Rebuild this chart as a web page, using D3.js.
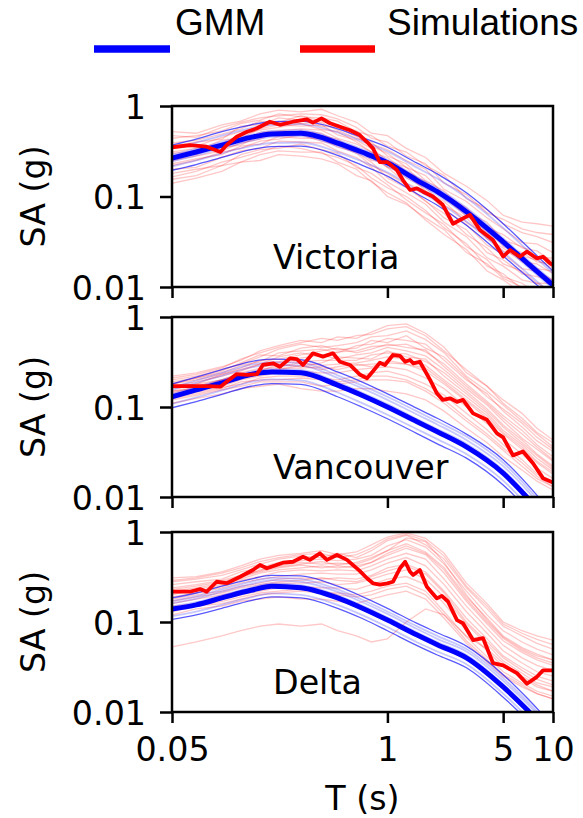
<!DOCTYPE html>
<html>
<head>
<meta charset="utf-8">
<script src="https://cdn.jsdelivr.net/npm/d3@7"></script>
<style>
  body { margin: 0; background: #fff; }
  text { font-family: "DejaVu Sans", sans-serif; fill: #000; }
</style>
</head>
<body>
<svg id="chart" width="583" height="818"></svg>
<script>
// periods (s)
var gmmPeriods = [0.05, 0.07, 0.1, 0.15, 0.2, 0.3, 0.5, 0.7, 1, 1.5, 2, 3, 5, 7, 10];
var simPeriods = [0.05, 0.07, 0.1, 0.13, 0.17, 0.22, 0.3, 0.4, 0.5, 0.65, 0.8, 1, 1.3, 1.7, 2.2, 3, 4, 5, 6.5, 8, 10];

var xTickValues = [0.05, 1, 5, 10];
var xTickLabels = ["0.05", "1", "5", "10"];
var yTickValues = [0.01, 0.1, 1];
var yTickLabels = ["0.01", "0.1", "1"];
var siteNames = ["Victoria", "Vancouver", "Delta"];

// ---- Victoria ----
var vicGmmMedian = [0.265, 0.31, 0.37, 0.45, 0.49, 0.50, 0.39, 0.31, 0.236, 0.152, 0.113, 0.068, 0.0316, 0.0184, 0.0105];
var vicGmmUpper = [0.37, 0.43, 0.52, 0.62, 0.67, 0.68, 0.56, 0.45, 0.35, 0.235, 0.178, 0.11, 0.05, 0.028, 0.015];
var vicGmmLower = [0.195, 0.225, 0.27, 0.33, 0.355, 0.36, 0.285, 0.222, 0.168, 0.108, 0.08, 0.048, 0.022, 0.013, 0.0074];
var vicGmmOther = [
    [0.34, 0.395, 0.47, 0.57, 0.62, 0.63, 0.51, 0.41, 0.315, 0.21, 0.158, 0.097, 0.045, 0.0255, 0.0142],
    [0.29, 0.335, 0.40, 0.48, 0.53, 0.54, 0.42, 0.335, 0.255, 0.165, 0.123, 0.075, 0.0345, 0.02, 0.0115],
    [0.245, 0.285, 0.34, 0.415, 0.455, 0.465, 0.36, 0.287, 0.218, 0.14, 0.104, 0.062, 0.029, 0.0168, 0.0096],
    [0.215, 0.25, 0.30, 0.36, 0.39, 0.395, 0.31, 0.245, 0.185, 0.119, 0.088, 0.053, 0.0243, 0.0142, 0.0081]
];
var vicSimRuns = [
    [0.52, 0.50, 0.62, 0.68, 0.82, 0.90, 0.86, 0.92, 0.78, 0.66, 0.50, 0.47, 0.34, 0.27, 0.18, 0.13, 0.09, 0.062, 0.052, 0.05, 0.047],
    [0.44, 0.47, 0.53, 0.64, 0.70, 0.82, 0.76, 0.74, 0.68, 0.52, 0.47, 0.36, 0.31, 0.22, 0.17, 0.095, 0.072, 0.05, 0.04, 0.036, 0.031],
    [0.39, 0.42, 0.49, 0.56, 0.68, 0.66, 0.78, 0.68, 0.60, 0.53, 0.38, 0.33, 0.25, 0.20, 0.12, 0.088, 0.058, 0.044, 0.031, 0.03, 0.024],
    [0.34, 0.36, 0.45, 0.52, 0.57, 0.68, 0.64, 0.66, 0.54, 0.44, 0.40, 0.28, 0.23, 0.15, 0.115, 0.068, 0.052, 0.033, 0.028, 0.021, 0.021],
    [0.31, 0.34, 0.38, 0.48, 0.54, 0.58, 0.64, 0.55, 0.52, 0.40, 0.31, 0.27, 0.19, 0.145, 0.095, 0.064, 0.04, 0.031, 0.022, 0.02, 0.016],
    [0.28, 0.29, 0.37, 0.41, 0.51, 0.53, 0.56, 0.54, 0.44, 0.38, 0.31, 0.21, 0.18, 0.115, 0.088, 0.052, 0.037, 0.025, 0.021, 0.016, 0.015],
    [0.25, 0.28, 0.32, 0.39, 0.43, 0.52, 0.50, 0.47, 0.43, 0.32, 0.27, 0.21, 0.14, 0.115, 0.072, 0.049, 0.029, 0.023, 0.016, 0.015, 0.012],
    [0.22, 0.25, 0.31, 0.34, 0.41, 0.43, 0.48, 0.41, 0.37, 0.30, 0.22, 0.18, 0.135, 0.088, 0.065, 0.038, 0.027, 0.018, 0.015, 0.011, 0.011],
    [0.20, 0.21, 0.27, 0.32, 0.34, 0.41, 0.40, 0.39, 0.32, 0.27, 0.21, 0.145, 0.11, 0.082, 0.052, 0.036, 0.021, 0.017, 0.012, 0.011, 0.009],
    [0.18, 0.20, 0.22, 0.29, 0.33, 0.34, 0.38, 0.33, 0.30, 0.21, 0.18, 0.135, 0.092, 0.066, 0.049, 0.028, 0.02, 0.013, 0.011, 0.0085, 0.008],
    [0.155, 0.17, 0.22, 0.24, 0.29, 0.32, 0.31, 0.31, 0.24, 0.20, 0.145, 0.11, 0.085, 0.055, 0.038, 0.026, 0.015, 0.012, 0.0085, 0.008, 0.0065],
    [0.14, 0.16, 0.19, 0.24, 0.25, 0.29, 0.28, 0.26, 0.23, 0.17, 0.15, 0.10, 0.082, 0.058, 0.043, 0.024, 0.018, 0.0125, 0.01, 0.0085, 0.0075],
    [0.36, 0.40, 0.43, 0.60, 0.62, 0.74, 0.70, 0.60, 0.58, 0.46, 0.36, 0.30, 0.21, 0.17, 0.105, 0.075, 0.045, 0.038, 0.027, 0.025, 0.019],
    [0.26, 0.31, 0.35, 0.37, 0.47, 0.47, 0.53, 0.50, 0.40, 0.35, 0.25, 0.24, 0.16, 0.125, 0.08, 0.058, 0.034, 0.027, 0.019, 0.018, 0.014],
    [0.47, 0.45, 0.58, 0.66, 0.74, 0.78, 0.82, 0.80, 0.72, 0.58, 0.44, 0.40, 0.28, 0.23, 0.14, 0.105, 0.066, 0.056, 0.044, 0.04, 0.038],
    [0.30, 0.32, 0.42, 0.44, 0.56, 0.62, 0.60, 0.62, 0.48, 0.42, 0.34, 0.25, 0.21, 0.13, 0.10, 0.06, 0.045, 0.028, 0.024, 0.019, 0.018],
    [0.23, 0.26, 0.29, 0.36, 0.38, 0.46, 0.44, 0.44, 0.35, 0.31, 0.24, 0.16, 0.125, 0.09, 0.058, 0.043, 0.024, 0.02, 0.014, 0.013, 0.012],
    [0.165, 0.19, 0.24, 0.27, 0.31, 0.36, 0.34, 0.30, 0.27, 0.22, 0.16, 0.125, 0.10, 0.07, 0.045, 0.03, 0.017, 0.014, 0.0095, 0.009, 0.0075]
];
var vicSelT = [0.05, 0.064, 0.081, 0.098, 0.107, 0.123, 0.142, 0.163, 0.195, 0.224, 0.269, 0.327, 0.355, 0.40, 0.45, 0.517, 0.594, 0.68, 0.753, 0.818, 0.90, 1.0, 1.14, 1.24, 1.37, 1.51, 1.64, 1.88, 2.16, 2.49, 2.74, 3.15, 3.62, 4.34, 5.0, 5.5, 6.3, 6.96, 8.0, 8.7, 9.6, 10];
var vicSelSA = [0.35, 0.37, 0.355, 0.31, 0.37, 0.458, 0.52, 0.567, 0.67, 0.62, 0.67, 0.71, 0.655, 0.73, 0.645, 0.59, 0.54, 0.478, 0.40, 0.34, 0.24, 0.24, 0.196, 0.152, 0.118, 0.123, 0.113, 0.10, 0.081, 0.05, 0.055, 0.0626, 0.0427, 0.033, 0.0217, 0.0256, 0.0216, 0.0246, 0.0207, 0.0216, 0.0183, 0.0175];

// ---- Vancouver ----
var vanGmmMedian = [0.130, 0.155, 0.185, 0.23, 0.245, 0.24, 0.175, 0.135, 0.10, 0.069, 0.053, 0.036, 0.0184, 0.0098, 0.0045];
var vanGmmUpper = [0.18, 0.215, 0.26, 0.32, 0.34, 0.335, 0.245, 0.19, 0.14, 0.097, 0.075, 0.05, 0.026, 0.0138, 0.0064];
var vanGmmLower = [0.098, 0.115, 0.138, 0.17, 0.182, 0.178, 0.13, 0.10, 0.074, 0.051, 0.039, 0.027, 0.0136, 0.0073, 0.0033];
var vanGmmOther = [
    [0.165, 0.197, 0.24, 0.295, 0.315, 0.31, 0.225, 0.174, 0.13, 0.09, 0.069, 0.047, 0.024, 0.0128, 0.0059],
    [0.155, 0.185, 0.222, 0.275, 0.293, 0.288, 0.21, 0.162, 0.12, 0.083, 0.064, 0.043, 0.022, 0.0118, 0.0054],
    [0.14, 0.167, 0.20, 0.247, 0.263, 0.258, 0.188, 0.145, 0.108, 0.074, 0.057, 0.039, 0.0198, 0.0105, 0.0048],
    [0.108, 0.128, 0.153, 0.19, 0.203, 0.198, 0.145, 0.111, 0.082, 0.057, 0.044, 0.03, 0.0152, 0.0081, 0.0037]
];
var vanSimRuns = [
    [0.22, 0.24, 0.28, 0.33, 0.42, 0.48, 0.55, 0.52, 0.60, 0.58, 0.68, 0.80, 0.84, 0.66, 0.46, 0.24, 0.17, 0.12, 0.085, 0.058, 0.043],
    [0.20, 0.22, 0.26, 0.30, 0.36, 0.44, 0.50, 0.46, 0.48, 0.52, 0.60, 0.62, 0.70, 0.56, 0.40, 0.22, 0.15, 0.105, 0.07, 0.05, 0.036],
    [0.19, 0.21, 0.24, 0.29, 0.32, 0.40, 0.42, 0.44, 0.40, 0.48, 0.50, 0.58, 0.55, 0.50, 0.33, 0.20, 0.14, 0.09, 0.06, 0.042, 0.032],
    [0.18, 0.20, 0.23, 0.26, 0.30, 0.36, 0.40, 0.36, 0.41, 0.42, 0.47, 0.48, 0.50, 0.41, 0.30, 0.18, 0.115, 0.08, 0.055, 0.038, 0.028],
    [0.17, 0.19, 0.22, 0.25, 0.30, 0.32, 0.35, 0.38, 0.34, 0.38, 0.40, 0.46, 0.42, 0.37, 0.26, 0.16, 0.105, 0.07, 0.045, 0.034, 0.025],
    [0.165, 0.18, 0.20, 0.24, 0.27, 0.31, 0.32, 0.33, 0.33, 0.33, 0.38, 0.40, 0.39, 0.32, 0.24, 0.15, 0.095, 0.063, 0.043, 0.03, 0.022],
    [0.16, 0.17, 0.20, 0.22, 0.26, 0.28, 0.31, 0.29, 0.30, 0.31, 0.33, 0.36, 0.34, 0.29, 0.20, 0.13, 0.085, 0.055, 0.038, 0.027, 0.02],
    [0.15, 0.165, 0.19, 0.21, 0.24, 0.27, 0.27, 0.28, 0.26, 0.29, 0.30, 0.31, 0.30, 0.25, 0.18, 0.115, 0.075, 0.05, 0.034, 0.024, 0.018],
    [0.14, 0.155, 0.17, 0.20, 0.22, 0.24, 0.25, 0.24, 0.24, 0.26, 0.27, 0.28, 0.26, 0.21, 0.16, 0.10, 0.065, 0.044, 0.03, 0.021, 0.016],
    [0.13, 0.145, 0.165, 0.18, 0.21, 0.22, 0.22, 0.21, 0.20, 0.22, 0.24, 0.25, 0.22, 0.18, 0.135, 0.085, 0.056, 0.038, 0.026, 0.018, 0.014],
    [0.12, 0.135, 0.155, 0.17, 0.19, 0.19, 0.19, 0.17, 0.18, 0.19, 0.20, 0.20, 0.19, 0.15, 0.11, 0.07, 0.047, 0.033, 0.022, 0.016, 0.013],
    [0.11, 0.125, 0.14, 0.16, 0.17, 0.18, 0.16, 0.15, 0.15, 0.16, 0.16, 0.15, 0.14, 0.12, 0.09, 0.058, 0.04, 0.028, 0.02, 0.015, 0.012],
    [0.18, 0.21, 0.25, 0.31, 0.38, 0.37, 0.45, 0.48, 0.43, 0.45, 0.55, 0.52, 0.62, 0.45, 0.36, 0.21, 0.13, 0.095, 0.066, 0.046, 0.034],
    [0.15, 0.16, 0.20, 0.23, 0.25, 0.30, 0.28, 0.31, 0.36, 0.35, 0.34, 0.42, 0.36, 0.34, 0.22, 0.14, 0.09, 0.06, 0.04, 0.029, 0.021],
    [0.21, 0.23, 0.27, 0.34, 0.40, 0.46, 0.52, 0.58, 0.55, 0.62, 0.64, 0.74, 0.78, 0.62, 0.42, 0.26, 0.17, 0.11, 0.075, 0.052, 0.04],
    [0.17, 0.18, 0.23, 0.27, 0.33, 0.34, 0.38, 0.42, 0.45, 0.40, 0.44, 0.50, 0.46, 0.43, 0.28, 0.17, 0.11, 0.075, 0.05, 0.036, 0.026],
    [0.145, 0.16, 0.18, 0.21, 0.23, 0.26, 0.29, 0.26, 0.28, 0.30, 0.28, 0.33, 0.30, 0.27, 0.19, 0.12, 0.08, 0.052, 0.036, 0.025, 0.019],
    [0.125, 0.14, 0.16, 0.19, 0.20, 0.20, 0.21, 0.20, 0.19, 0.20, 0.22, 0.22, 0.20, 0.16, 0.12, 0.075, 0.05, 0.035, 0.024, 0.017, 0.013]
];
var vanSelT = [0.05, 0.081, 0.098, 0.107, 0.123, 0.142, 0.163, 0.177, 0.204, 0.224, 0.258, 0.284, 0.309, 0.355, 0.408, 0.469, 0.517, 0.594, 0.68, 0.753, 0.818, 0.90, 0.966, 1.08, 1.19, 1.28, 1.37, 1.43, 1.57, 1.81, 1.99, 2.16, 2.39, 2.63, 2.86, 3.29, 3.99, 4.59, 5.0, 5.73, 6.59, 7.57, 8.7, 10];
var vanSelSA = [0.171, 0.171, 0.168, 0.191, 0.232, 0.227, 0.232, 0.293, 0.306, 0.28, 0.347, 0.34, 0.293, 0.395, 0.363, 0.395, 0.318, 0.293, 0.23, 0.209, 0.25, 0.31, 0.293, 0.378, 0.37, 0.318, 0.333, 0.306, 0.318, 0.20, 0.142, 0.12, 0.125, 0.114, 0.12, 0.085, 0.072, 0.051, 0.046, 0.029, 0.032, 0.0237, 0.0162, 0.0145];

// ---- Delta ----
var delGmmMedian = [0.139, 0.155, 0.185, 0.225, 0.25, 0.24, 0.185, 0.143, 0.105, 0.072, 0.056, 0.04, 0.019, 0.0105, 0.0052];
var delGmmUpper = [0.185, 0.21, 0.25, 0.30, 0.33, 0.325, 0.25, 0.193, 0.142, 0.097, 0.076, 0.054, 0.026, 0.0142, 0.007];
var delGmmLower = [0.107, 0.12, 0.142, 0.173, 0.19, 0.185, 0.142, 0.11, 0.08, 0.055, 0.043, 0.031, 0.0146, 0.0081, 0.004];
var delGmmOther = [
    [0.172, 0.193, 0.23, 0.28, 0.31, 0.30, 0.23, 0.178, 0.131, 0.09, 0.07, 0.05, 0.0238, 0.0131, 0.0065],
    [0.162, 0.182, 0.217, 0.263, 0.292, 0.28, 0.216, 0.167, 0.123, 0.084, 0.065, 0.047, 0.0222, 0.0123, 0.0061],
    [0.149, 0.166, 0.198, 0.241, 0.268, 0.257, 0.198, 0.153, 0.112, 0.077, 0.06, 0.043, 0.0203, 0.0112, 0.0056],
    [0.116, 0.13, 0.155, 0.188, 0.208, 0.20, 0.155, 0.12, 0.088, 0.06, 0.047, 0.034, 0.016, 0.0088, 0.0044]
];
var delSimRuns = [
    [0.31, 0.32, 0.36, 0.42, 0.50, 0.55, 0.58, 0.62, 0.56, 0.60, 0.72, 0.88, 0.98, 0.85, 0.58, 0.27, 0.16, 0.10, 0.08, 0.07, 0.063],
    [0.28, 0.30, 0.33, 0.38, 0.44, 0.50, 0.54, 0.52, 0.58, 0.52, 0.62, 0.80, 0.92, 0.72, 0.50, 0.24, 0.14, 0.09, 0.07, 0.058, 0.05],
    [0.26, 0.28, 0.30, 0.36, 0.40, 0.46, 0.48, 0.50, 0.48, 0.50, 0.55, 0.70, 0.82, 0.68, 0.44, 0.22, 0.12, 0.08, 0.06, 0.05, 0.043],
    [0.24, 0.26, 0.29, 0.33, 0.37, 0.42, 0.46, 0.44, 0.45, 0.44, 0.50, 0.62, 0.74, 0.60, 0.40, 0.19, 0.11, 0.07, 0.052, 0.044, 0.038],
    [0.22, 0.24, 0.27, 0.30, 0.35, 0.38, 0.40, 0.42, 0.40, 0.42, 0.46, 0.55, 0.66, 0.56, 0.35, 0.17, 0.095, 0.062, 0.046, 0.038, 0.033],
    [0.21, 0.22, 0.25, 0.29, 0.32, 0.36, 0.38, 0.37, 0.38, 0.37, 0.42, 0.50, 0.58, 0.50, 0.30, 0.15, 0.085, 0.055, 0.04, 0.033, 0.029],
    [0.19, 0.21, 0.24, 0.27, 0.30, 0.32, 0.34, 0.35, 0.34, 0.34, 0.38, 0.45, 0.52, 0.42, 0.26, 0.13, 0.075, 0.048, 0.035, 0.028, 0.025],
    [0.18, 0.20, 0.22, 0.25, 0.27, 0.30, 0.31, 0.30, 0.31, 0.30, 0.33, 0.40, 0.44, 0.36, 0.22, 0.11, 0.065, 0.042, 0.031, 0.025, 0.022],
    [0.16, 0.18, 0.20, 0.22, 0.25, 0.27, 0.27, 0.28, 0.26, 0.27, 0.30, 0.34, 0.38, 0.30, 0.19, 0.095, 0.056, 0.037, 0.027, 0.021, 0.019],
    [0.15, 0.16, 0.18, 0.20, 0.22, 0.24, 0.25, 0.24, 0.24, 0.23, 0.26, 0.30, 0.32, 0.26, 0.16, 0.08, 0.048, 0.032, 0.024, 0.019, 0.017],
    [0.13, 0.15, 0.16, 0.18, 0.20, 0.21, 0.22, 0.21, 0.21, 0.20, 0.22, 0.25, 0.27, 0.22, 0.13, 0.068, 0.041, 0.028, 0.021, 0.017, 0.015],
    [0.12, 0.14, 0.15, 0.17, 0.18, 0.19, 0.18, 0.18, 0.17, 0.16, 0.18, 0.20, 0.22, 0.18, 0.11, 0.058, 0.036, 0.025, 0.019, 0.016, 0.014],
    [0.053, 0.06, 0.07, 0.08, 0.09, 0.095, 0.09, 0.095, 0.08, 0.07, 0.06, 0.065, 0.10, 0.14, 0.12, 0.07, 0.05, 0.035, 0.025, 0.02, 0.017],
    [0.20, 0.23, 0.26, 0.31, 0.38, 0.41, 0.44, 0.47, 0.43, 0.46, 0.52, 0.62, 0.86, 0.78, 0.46, 0.20, 0.105, 0.068, 0.05, 0.042, 0.038],
    [0.29, 0.31, 0.35, 0.40, 0.47, 0.52, 0.56, 0.58, 0.52, 0.56, 0.66, 0.84, 0.94, 0.80, 0.54, 0.25, 0.15, 0.095, 0.075, 0.064, 0.056],
    [0.23, 0.25, 0.28, 0.32, 0.36, 0.40, 0.43, 0.40, 0.42, 0.40, 0.46, 0.58, 0.70, 0.58, 0.38, 0.18, 0.10, 0.066, 0.048, 0.04, 0.035],
    [0.17, 0.19, 0.21, 0.24, 0.26, 0.28, 0.29, 0.31, 0.29, 0.28, 0.32, 0.37, 0.42, 0.34, 0.21, 0.10, 0.06, 0.04, 0.029, 0.023, 0.02],
    [0.14, 0.15, 0.17, 0.19, 0.21, 0.22, 0.23, 0.22, 0.20, 0.19, 0.20, 0.23, 0.25, 0.20, 0.12, 0.062, 0.038, 0.026, 0.02, 0.016, 0.014]
];
var delSelT = [0.05, 0.064, 0.074, 0.081, 0.093, 0.107, 0.129, 0.154, 0.170, 0.187, 0.234, 0.269, 0.309, 0.340, 0.391, 0.431, 0.496, 0.570, 0.68, 0.753, 0.818, 0.90, 1.0, 1.08, 1.19, 1.28, 1.37, 1.43, 1.57, 1.73, 1.99, 2.13, 2.32, 2.63, 2.86, 3.29, 3.78, 4.34, 5.0, 6.06, 6.96, 8.0, 8.7, 10];
var delSelSA = [0.217, 0.217, 0.232, 0.217, 0.28, 0.27, 0.318, 0.378, 0.43, 0.395, 0.456, 0.467, 0.53, 0.49, 0.58, 0.49, 0.555, 0.49, 0.37, 0.306, 0.269, 0.26, 0.269, 0.28, 0.395, 0.467, 0.362, 0.333, 0.378, 0.246, 0.183, 0.195, 0.169, 0.105, 0.097, 0.063, 0.066, 0.035, 0.033, 0.027, 0.0206, 0.0246, 0.029, 0.029];


var svg = d3.select("#chart");

var panelLeft = 172, panelRight = 553;
var panelBox = [[106, 287], [317, 497], [532, 712]];

var panels = [
    { gmmMedian: vicGmmMedian, gmmUpper: vicGmmUpper, gmmLower: vicGmmLower, gmmOther: vicGmmOther, runs: vicSimRuns, selT: vicSelT, selSA: vicSelSA },
    { gmmMedian: vanGmmMedian, gmmUpper: vanGmmUpper, gmmLower: vanGmmLower, gmmOther: vanGmmOther, runs: vanSimRuns, selT: vanSelT, selSA: vanSelSA },
    { gmmMedian: delGmmMedian, gmmUpper: delGmmUpper, gmmLower: delGmmLower, gmmOther: delGmmOther, runs: delSimRuns, selT: delSelT, selSA: delSelSA }
];

var x = d3.scaleLog().domain([0.05, 10]).range([panelLeft, panelRight]);

function zipT(periods, values) {
    return periods.map(function (t, i) { return [t, values[i]]; });
}

panels.forEach(function (p, k) {
    var top = panelBox[k][0], bottom = panelBox[k][1];
    var y = d3.scaleLog().domain([0.01, 1]).range([bottom, top]);

    var smooth = d3.line().x(d => x(d[0])).y(d => y(d[1])).curve(d3.curveMonotoneX);
    var jagged = d3.line().x(d => x(d[0])).y(d => y(d[1]));

    svg.append("clipPath").attr("id", "clip" + k)
        .append("rect")
        .attr("x", panelLeft).attr("y", top)
        .attr("width", panelRight - panelLeft).attr("height", bottom - top);

    var g = svg.append("g").attr("clip-path", "url(#clip" + k + ")");

    // simulations, thin
    g.selectAll("path.run").data(p.runs).enter().append("path")
        .attr("class", "run")
        .attr("d", d => jagged(zipT(simPeriods, d)))
        .attr("fill", "none")
        .attr("stroke", "rgba(255,0,0,0.22)")
        .attr("stroke-width", 1.3);

    // GMM
    g.selectAll("path.gmm-other").data(p.gmmOther).enter().append("path")
        .attr("class", "gmm-other")
        .attr("d", d => smooth(zipT(gmmPeriods, d)))
        .attr("fill", "none")
        .attr("stroke", "rgba(0,0,255,0.22)")
        .attr("stroke-width", 1.8);

    g.selectAll("path.gmm-band").data([p.gmmUpper, p.gmmLower]).enter().append("path")
        .attr("class", "gmm-band")
        .attr("d", d => smooth(zipT(gmmPeriods, d)))
        .attr("fill", "none")
        .attr("stroke", "rgba(0,0,255,0.65)")
        .attr("stroke-width", 1.3);

    g.append("path")
        .attr("d", smooth(zipT(gmmPeriods, p.gmmMedian)))
        .attr("fill", "none")
        .attr("stroke", "#0000ff")
        .attr("stroke-width", 5);

    // selected simulation
    g.append("path")
        .attr("d", jagged(zipT(p.selT, p.selSA)))
        .attr("fill", "none")
        .attr("stroke", "#ff0000")
        .attr("stroke-width", 3.8)
        .attr("stroke-linejoin", "round");

    // frame
    svg.append("rect")
        .attr("x", panelLeft).attr("y", top)
        .attr("width", panelRight - panelLeft).attr("height", bottom - top)
        .attr("fill", "none").attr("stroke", "#000").attr("stroke-width", 2.5);

    var yAxis = svg.append("g")
        .attr("transform", "translate(" + panelLeft + ",0)")
        .call(d3.axisLeft(y).tickValues(yTickValues)
            .tickFormat((d, i) => yTickLabels[i])
            .tickSize(12).tickPadding(14).tickSizeOuter(0));
    yAxis.select(".domain").remove();
    yAxis.selectAll("line").attr("stroke", "#000").attr("stroke-width", 2.5);
    yAxis.selectAll("text").attr("font-size", 33.3).attr("dy", "0.36em")
        .style("font-family", "DejaVu Sans");

    var xAxis = svg.append("g")
        .attr("transform", "translate(0," + bottom + ")")
        .call(d3.axisBottom(x).tickValues(xTickValues)
            .tickFormat((d, i) => k == 2 ? xTickLabels[i] : "")
            .tickSize(11).tickPadding(14).tickSizeOuter(0));
    xAxis.select(".domain").remove();
    xAxis.selectAll("line").attr("stroke", "#000").attr("stroke-width", 2.5);
    xAxis.selectAll("text").attr("font-size", 33.3).style("font-family", "DejaVu Sans");

    // site name
    svg.append("text")
        .attr("x", 273).attr("y", bottom - 18)
        .attr("font-size", 33.3)
        .text(siteNames[k]);

    // y label
    svg.append("text")
        .attr("transform", "translate(45," + (top + bottom) / 2 + ") rotate(-90)")
        .attr("text-anchor", "middle")
        .attr("font-size", 33.3)
        .text("SA (g)");
});

// x label
svg.append("text")
    .attr("x", (panelLeft + panelRight) / 2).attr("y", 810)
    .attr("text-anchor", "middle")
    .attr("font-size", 33.3)
    .text("T (s)");

// legend
var legendItems = [
    { label: "GMM", color: "#0000ff", x1: 94, x2: 170, tx: 175 },
    { label: "Simulations", color: "#ff0000", x1: 300, x2: 375, tx: 387 }
];
var legend = svg.append("g");
legend.selectAll("line").data(legendItems).enter().append("line")
    .attr("x1", d => d.x1).attr("x2", d => d.x2)
    .attr("y1", 49).attr("y2", 49)
    .attr("stroke", d => d.color).attr("stroke-width", 7.5);
legend.selectAll("text").data(legendItems).enter().append("text")
    .attr("x", d => d.tx).attr("y", 35)
    .style("font-family", "'Liberation Sans', Arial, sans-serif")
    .attr("font-size", 37)
    .text(d => d.label);
</script>
</body>
</html>
